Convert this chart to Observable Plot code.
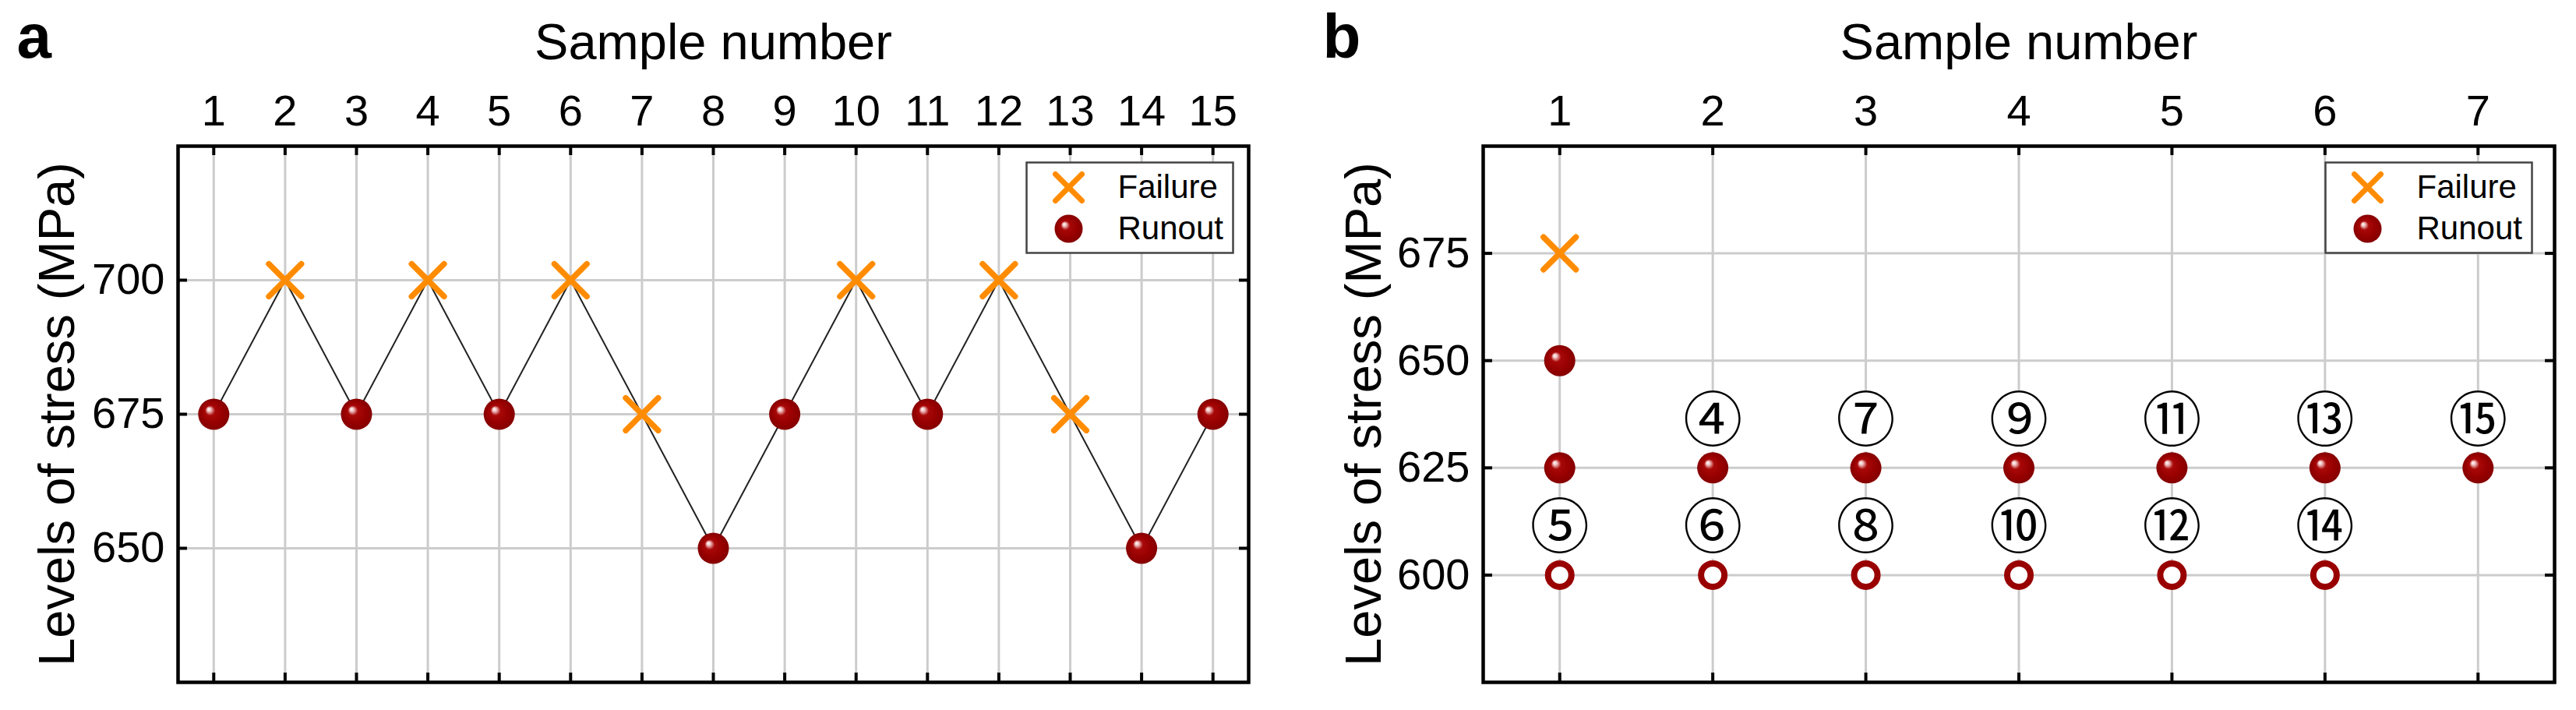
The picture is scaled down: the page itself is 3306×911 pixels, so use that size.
<!DOCTYPE html>
<html>
<head>
<meta charset="utf-8">
<script src="https://cdn.jsdelivr.net/npm/d3@7"></script>
<script src="https://cdn.jsdelivr.net/npm/@observablehq/plot@0.6"></script>
<style>
  html, body { margin: 0; padding: 0; background: #fff; }
  #wrap { position: relative; width: 3306px; height: 911px; overflow: hidden; background: #fff; }
  #pa { position: absolute; left: 0; top: 0; }
  #pb { position: absolute; left: 1650px; top: 0; }
</style>
</head>
<body>
<svg width="0" height="0" style="position:absolute">
  <defs>
    <radialGradient id="ball" cx="0.5" cy="0.5" r="0.5" fx="0.33" fy="0.33">
      <stop offset="0" stop-color="#ffffff"/>
      <stop offset="0.12" stop-color="#f2c4c4"/>
      <stop offset="0.32" stop-color="#a80808"/>
      <stop offset="0.7" stop-color="#960000"/>
      <stop offset="1" stop-color="#850000"/>
    </radialGradient>
  </defs>
</svg>
<div id="wrap">
  <div id="pa"></div>
  <div id="pb"></div>
</div>
<script>
// ---------- Data: panel a ----------
const samplesA = [1, 2, 3, 4, 5, 6, 7, 8, 9, 10, 11, 12, 13, 14, 15];
const stressA  = [675, 700, 675, 700, 675, 700, 675, 650, 675, 700, 675, 700, 675, 650, 675];
const resultA  = ["Runout", "Failure", "Runout", "Failure", "Runout", "Failure", "Failure", "Runout",
                  "Runout", "Failure", "Runout", "Failure", "Failure", "Runout", "Runout"];
const xTicksA = [1, 2, 3, 4, 5, 6, 7, 8, 9, 10, 11, 12, 13, 14, 15];
const yTicksA = [650, 675, 700];
const xDomainA = [0.5, 15.5];
const yDomainA = [625, 725];

// ---------- Data: panel b ----------
const failureSampleB = [1];
const failureStressB = [675];
const runoutSampleB = [1, 1, 2, 3, 4, 5, 6, 7];
const runoutStressB = [650, 625, 625, 625, 625, 625, 625, 625];
const openSampleB = [1, 2, 3, 4, 5, 6];
const openStressB = [600, 600, 600, 600, 600, 600];
const labelSampleB = [2, 3, 4, 5, 6, 7, 1, 2, 3, 4, 5, 6];
const labelStressB = [625, 625, 625, 625, 625, 625, 600, 600, 600, 600, 600, 600];
const labelTextB = ["④", "⑦", "⑨", "⑪", "⑬", "⑮", "⑤", "⑥", "⑧", "⑩", "⑫", "⑭"];
const xTicksB = [1, 2, 3, 4, 5, 6, 7];
const yTicksB = [600, 625, 650, 675];
const xDomainB = [0.5, 7.5];
const yDomainB = [575, 700];

const legendLabels = ["Failure", "Runout"];
const xLabel = "Sample number";
const yLabel = "Levels of stress (MPa)";

// ---------- Styles ----------
const FONT = "'Liberation Sans', Arial, Helvetica, sans-serif";
const ORANGE = "#ff8c00";
const DARKRED = "#990000";
const GRID = "#cccccc";
const H = 911, MT = 187, MB = 36;

const tableA = samplesA.map((s, i) => ({sample: s, stress: stressA[i], result: resultA[i]}));
const tableB = {
  failure: failureSampleB.map((s, i) => ({sample: s, stress: failureStressB[i]})),
  runout: runoutSampleB.map((s, i) => ({sample: s, stress: runoutStressB[i]})),
  open: openSampleB.map((s, i) => ({sample: s, stress: openStressB[i]})),
  labels: labelSampleB.map((s, i) => ({sample: s, stress: labelStressB[i], text: labelTextB[i]}))
};

function frameMarks(W, ML, MR, xTicks, yTicks, yLabelDx) {
  const pw = W - ML - MR, ph = H - MT - MB, tl = 12;
  return [
    Plot.gridX(xTicks, {stroke: GRID, strokeOpacity: 1, strokeWidth: 3}),
    Plot.gridY(yTicks, {stroke: GRID, strokeOpacity: 1, strokeWidth: 3}),
    Plot.tickY(yTicks, {y: d => d, insetRight: pw - tl, stroke: "#000", strokeWidth: 4}),
    Plot.tickY(yTicks, {y: d => d, insetLeft: pw - tl, stroke: "#000", strokeWidth: 4}),
    Plot.tickX(xTicks, {x: d => d, insetBottom: ph - tl, stroke: "#000", strokeWidth: 4}),
    Plot.tickX(xTicks, {x: d => d, insetTop: ph - tl, stroke: "#000", strokeWidth: 4}),
    Plot.axisX(xTicks, {anchor: "top", tickSize: 0, tickPadding: 27, label: null, tickFormat: d => String(d), fontSize: 56}),
    Plot.axisY(yTicks, {anchor: "left", tickSize: 0, tickPadding: 17, label: null, tickFormat: d => String(d), fontSize: 56}),
    Plot.text([xLabel], {frameAnchor: "top", dy: -112, lineAnchor: "bottom", fontSize: 65, fill: "#000"}),
    Plot.text([yLabel], {frameAnchor: "left", dx: yLabelDx, rotate: -90, textAnchor: "middle", lineAnchor: "middle", fontSize: 65, fill: "#000"})
  ];
}

function legendMarks(W, ML, MR, insetR) {
  const pw = W - ML - MR, ph = H - MT - MB;
  const boxW = 265, boxH = 116, top = 21;
  const left = insetR + boxW; // distance of box left from frame right
  const marks = [
    Plot.frame({insetTop: top, insetRight: insetR, insetLeft: pw - left, insetBottom: ph - top - boxH,
                fill: "#fff", stroke: "#444", strokeWidth: 2.5}),
    Plot.dot([legendLabels[0]], {frameAnchor: "top-right", dx: -(left - 54), dy: top + 32,
              symbol: "times", r: 15.5, stroke: ORANGE, strokeWidth: 7, strokeLinecap: "round"}),
    Plot.dot([legendLabels[1]], {frameAnchor: "top-right", dx: -(left - 54), dy: top + 85,
              r: 18, fill: "url(#ball)", stroke: "none"})
  ];
  legendLabels.forEach((t, i) => marks.push(
    Plot.text([t], {frameAnchor: "top-right", dx: -(left - 117), dy: top + 32 + i * 53,
                    textAnchor: "start", lineAnchor: "middle", fontSize: 42, fill: "#000"})));
  return marks;
}

function panelLetter(letter, dx) {
  return Plot.text([letter], {frameAnchor: "top-left", dx, dy: -114, textAnchor: "start", lineAnchor: "bottom",
                              fontSize: 80, fontWeight: "bold", fill: "#000"});
}

// ---------- Panel a ----------
{
  const W = 1650, ML = 228, MR = 48;
  const plotA = Plot.plot({
    width: W, height: H, marginLeft: ML, marginRight: MR, marginTop: MT, marginBottom: MB,
    style: {fontFamily: FONT, fontSize: "56px", color: "#000", background: "#fff", overflow: "visible"},
    x: {domain: xDomainA, axis: null},
    y: {domain: yDomainA, axis: null},
    marks: [
      ...frameMarks(W, ML, MR, xTicksA, yTicksA, -154),
      Plot.line(tableA, {x: "sample", y: "stress", stroke: "#222", strokeWidth: 2}),
      Plot.dot(tableA.filter(d => d.result === "Failure"), {x: "sample", y: "stress", symbol: "times", r: 19,
               stroke: ORANGE, strokeWidth: 7.5, strokeLinecap: "round"}),
      Plot.dot(tableA.filter(d => d.result === "Runout"), {x: "sample", y: "stress", r: 20, fill: "url(#ball)", stroke: "none"}),
      ...legendMarks(W, ML, MR, 20),
      Plot.frame({stroke: "#000", strokeWidth: 4.5}),
      panelLetter("a", -207)
    ]
  });
  document.getElementById("pa").appendChild(plotA);
}

// ---------- Panel b ----------
{
  const W = 1656, ML = 253, MR = 28;
  const plotB = Plot.plot({
    width: W, height: H, marginLeft: ML, marginRight: MR, marginTop: MT, marginBottom: MB,
    style: {fontFamily: FONT, fontSize: "56px", color: "#000", background: "#fff", overflow: "visible"},
    x: {domain: xDomainB, axis: null},
    y: {domain: yDomainB, axis: null},
    marks: [
      ...frameMarks(W, ML, MR, xTicksB, yTicksB, -152),
      Plot.dot(tableB.labels, {x: "sample", y: "stress", dy: -59, r: 38, fill: "#fff", stroke: "none"}),
      Plot.text(tableB.labels, {x: "sample", y: "stress", text: "text", dy: -59, lineAnchor: "middle",
                fontFamily: "'Noto Sans CJK JP', 'DejaVu Sans', sans-serif", fontSize: 76, fill: "#000"}),
      Plot.dot(tableB.failure, {x: "sample", y: "stress", symbol: "times", r: 19, stroke: ORANGE, strokeWidth: 7.5, strokeLinecap: "round"}),
      Plot.dot(tableB.runout, {x: "sample", y: "stress", r: 20, fill: "url(#ball)", stroke: "none"}),
      Plot.dot(tableB.open, {x: "sample", y: "stress", r: 15, fill: "#fff", stroke: DARKRED, strokeWidth: 8}),
      ...legendMarks(W, ML, MR, 29),
      Plot.frame({stroke: "#000", strokeWidth: 4.5}),
      panelLetter("b", -206)
    ]
  });
  document.getElementById("pb").appendChild(plotB);
}
</script>
</body>
</html>
